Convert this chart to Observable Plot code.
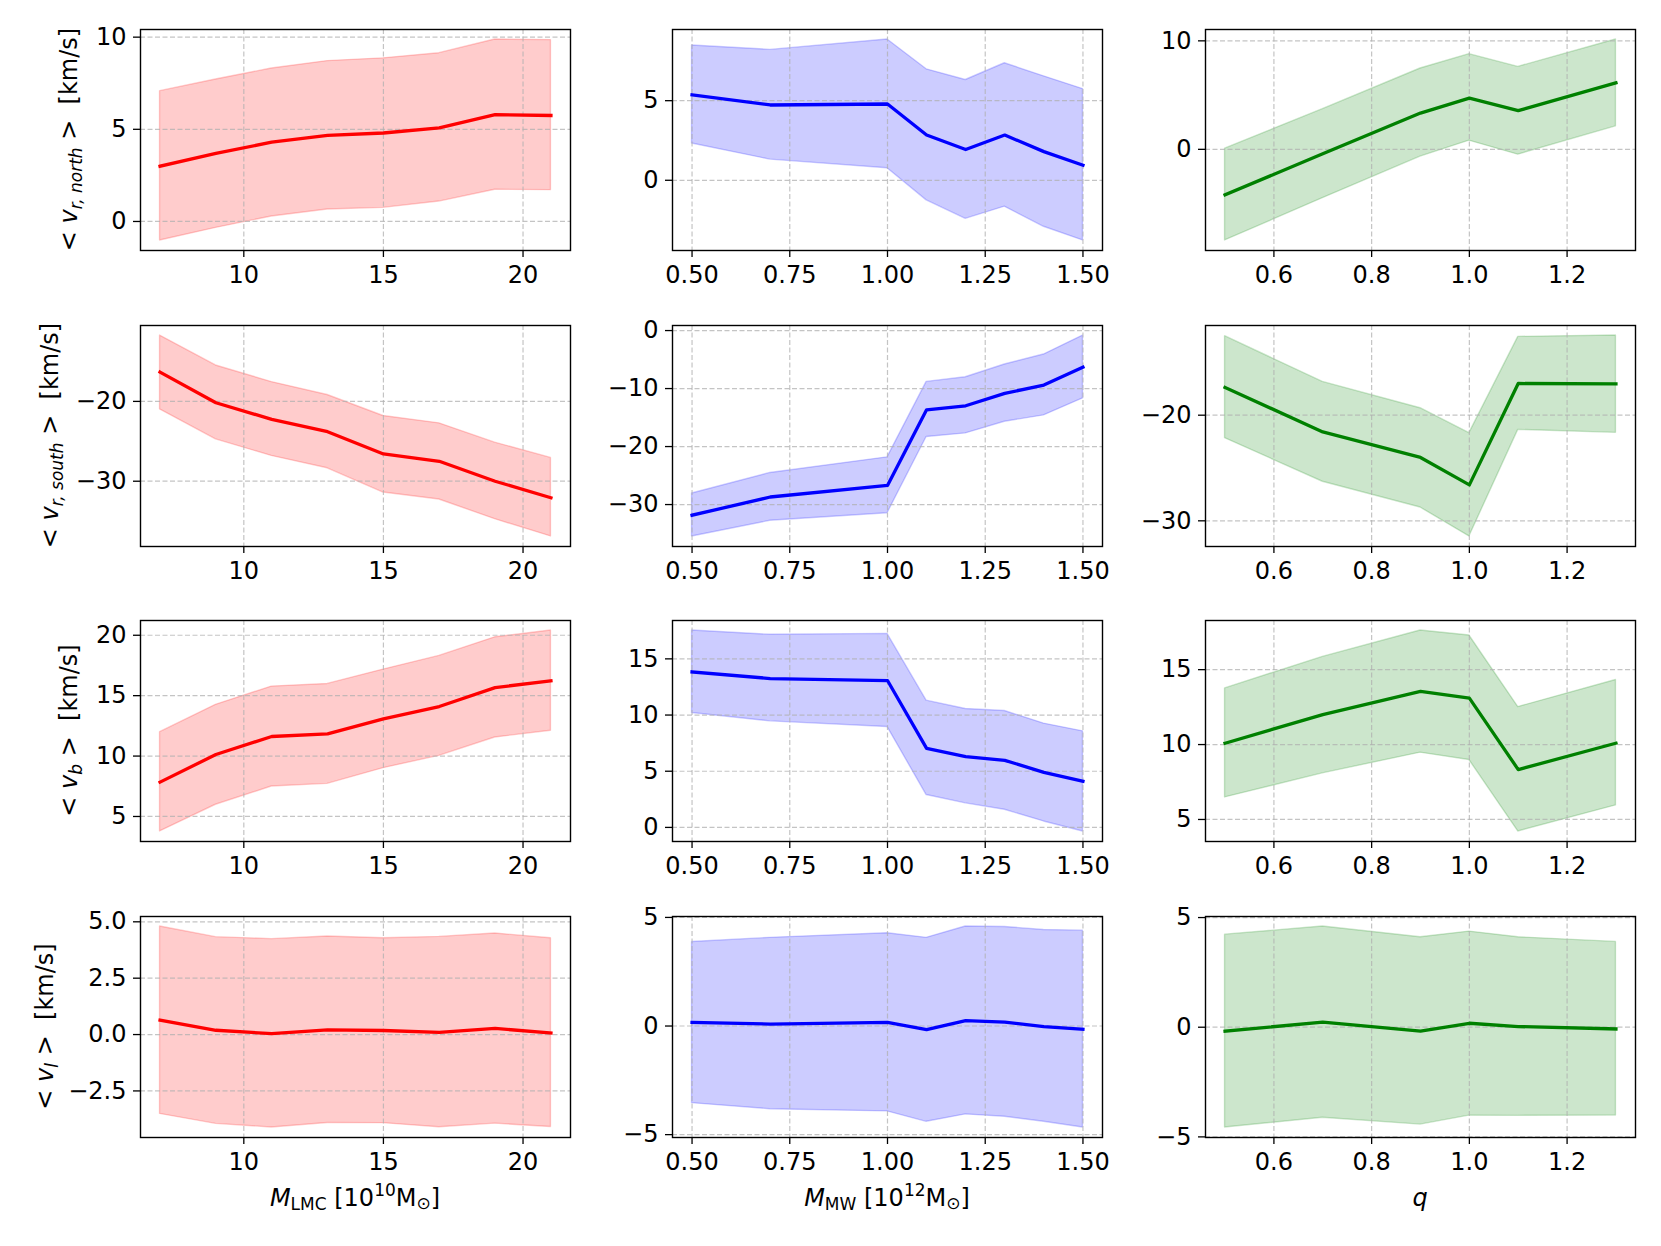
<!DOCTYPE html>
<html><head><meta charset="utf-8">
<script src="https://cdn.jsdelivr.net/npm/d3@7"></script>
<script src="https://cdn.jsdelivr.net/npm/@observablehq/plot@0.6"></script>
<style>
html,body{margin:0;padding:0;background:#fff}
#fig{position:relative;width:1661px;height:1246px;background:#fff;font-family:"DejaVu Sans"}
#fig svg{position:absolute;overflow:visible}
</style>
</head><body><div id="fig"></div>
<script>
// ---------- x values ----------
const xLMC = [7, 9, 11, 13, 15, 17, 19, 21];
const xMW = [0.5, 0.7, 1.0, 1.1, 1.2, 1.3, 1.4, 1.5];
const xQ = [0.5, 0.7, 0.9, 1.0, 1.1, 1.3];

// ---------- row 1: <v_r,north> ----------
const north_LMC_mean = [3.0, 3.7, 4.3, 4.67, 4.8, 5.08, 5.8, 5.75];
const north_LMC_hi = [7.07, 7.7, 8.3, 8.7, 8.85, 9.13, 9.87, 9.84];
const north_LMC_lo = [-1.03, -0.35, 0.27, 0.65, 0.74, 1.08, 1.72, 1.7];
const north_MW_mean = [5.36, 4.73, 4.79, 2.84, 1.93, 2.84, 1.8, 0.95];
const north_MW_hi = [8.47, 8.19, 8.84, 6.97, 6.3, 7.35, 6.53, 5.73];
const north_MW_lo = [2.31, 1.3, 0.76, -1.26, -2.42, -1.66, -2.92, -3.78];
const north_Q_mean = [-4.2, -0.4, 3.34, 4.72, 3.56, 6.13];
const north_Q_hi = [0.06, 3.7, 7.45, 8.77, 7.6, 10.12];
const north_Q_lo = [-8.4, -4.5, -0.67, 0.8, -0.49, 2.12];

// ---------- row 2: <v_r,south> ----------
const south_LMC_mean = [-16.33, -20.17, -22.25, -23.8, -26.58, -27.5, -30.0, -32.08];
const south_LMC_hi = [-11.75, -15.5, -17.58, -19.2, -21.83, -22.75, -25.17, -27.08];
const south_LMC_lo = [-21.0, -24.75, -26.83, -28.38, -31.42, -32.29, -34.75, -36.92];
const south_MW_mean = [-31.84, -28.7, -26.7, -13.66, -12.97, -10.84, -9.4, -6.3];
const south_MW_hi = [-28.1, -24.55, -21.86, -8.85, -8.05, -5.85, -4.13, -0.86];
const south_MW_lo = [-35.5, -32.8, -31.5, -18.36, -17.73, -15.72, -14.63, -11.7];
const south_Q_mean = [-17.38, -21.58, -24.0, -26.6, -17.0, -17.03];
const south_Q_hi = [-12.52, -16.85, -19.34, -21.7, -12.59, -12.46];
const south_Q_lo = [-22.18, -26.3, -28.74, -31.48, -21.39, -21.67];

// ---------- row 3: <v_b> ----------
const vb_LMC_mean = [7.84, 10.13, 11.62, 11.84, 13.08, 14.1, 15.67, 16.22];
const vb_LMC_hi = [11.98, 14.24, 15.75, 15.97, 17.16, 18.29, 19.83, 20.39];
const vb_LMC_lo = [3.76, 5.97, 7.48, 7.7, 9.0, 10.02, 11.54, 12.09];
const vb_MW_mean = [13.84, 13.25, 13.07, 7.04, 6.3, 5.97, 4.9, 4.1];
const vb_MW_hi = [17.52, 17.14, 17.22, 11.28, 10.54, 10.36, 9.24, 8.55];
const vb_MW_lo = [10.18, 9.44, 8.94, 2.88, 2.14, 1.57, 0.53, -0.36];
const vb_Q_mean = [10.09, 12.0, 13.55, 13.1, 8.33, 10.09];
const vb_Q_hi = [13.75, 15.85, 17.61, 17.28, 12.5, 14.31];
const vb_Q_lo = [6.47, 8.08, 9.46, 8.97, 4.2, 5.94];

// ---------- row 4: <v_l> ----------
const vl_LMC_mean = [0.64, 0.19, 0.04, 0.21, 0.18, 0.10, 0.27, 0.07];
const vl_LMC_hi = [4.79, 4.32, 4.23, 4.35, 4.27, 4.33, 4.48, 4.27];
const vl_LMC_lo = [-3.52, -3.96, -4.12, -3.92, -3.93, -4.11, -3.95, -4.1];
const vl_MW_mean = [0.17, 0.09, 0.17, -0.17, 0.25, 0.18, -0.03, -0.15];
const vl_MW_hi = [3.87, 4.06, 4.27, 4.06, 4.58, 4.56, 4.42, 4.39];
const vl_MW_lo = [-3.55, -3.83, -3.93, -4.41, -4.07, -4.18, -4.41, -4.67];
const vl_Q_mean = [-0.18, 0.23, -0.18, 0.18, 0.03, -0.08];
const vl_Q_hi = [4.22, 4.59, 4.10, 4.36, 4.10, 3.89];
const vl_Q_lo = [-4.57, -4.13, -4.44, -4.03, -4.04, -4.03];

// ---------- ticks ----------
const xTicksLMC = [10, 15, 20];
const xTicksMW = [0.5, 0.75, 1.0, 1.25, 1.5];
const xTicksQ = [0.6, 0.8, 1.0, 1.2];
const yTicks = [
  [[0, 5, 10], [0, 5], [0, 10]],
  [[-30, -20], [-30, -20, -10, 0], [-30, -20]],
  [[5, 10, 15, 20], [0, 5, 10, 15], [5, 10, 15]],
  [[-2.5, 0, 2.5, 5], [-5, 0, 5], [-5, 0, 5]]
];

// ---------- assembly ----------
const X = [xLMC, xMW, xQ];
const XT = [xTicksLMC, xTicksMW, xTicksQ];
const XF = [d3.format("d"), d3.format(".2f"), d3.format(".1f")];
const colors = ["red", "blue", "green"];
const series = [
  [[north_LMC_mean, north_LMC_lo, north_LMC_hi], [north_MW_mean, north_MW_lo, north_MW_hi], [north_Q_mean, north_Q_lo, north_Q_hi]],
  [[south_LMC_mean, south_LMC_lo, south_LMC_hi], [south_MW_mean, south_MW_lo, south_MW_hi], [south_Q_mean, south_Q_lo, south_Q_hi]],
  [[vb_LMC_mean, vb_LMC_lo, vb_LMC_hi], [vb_MW_mean, vb_MW_lo, vb_MW_hi], [vb_Q_mean, vb_Q_lo, vb_Q_hi]],
  [[vl_LMC_mean, vl_LMC_lo, vl_LMC_hi], [vl_MW_mean, vl_MW_lo, vl_MW_hi], [vl_Q_mean, vl_Q_lo, vl_Q_hi]]
];
const ySubs = ["r, north", "r, south", "b", "l"];

const colLeft = [139.5, 672, 1204.5];
const rowTop = [29, 324.5, 620, 915.5];
const labelBaseline = [76, 57, 76, 52]; // page x of the rotated y-label baselines
const W = 430, H = 221;
const ML = 110, MR = 10, MT = 10, MB = 50;
const FS = 24;
const fig = document.getElementById("fig");
const gridStyle = {stroke: "#b0b0b0", strokeOpacity: 0.75, strokeWidth: 1.2, strokeDasharray: "5,2.5"};

for (let r = 0; r < 4; r++) {
  for (let c = 0; c < 3; c++) {
    const xs = X[c];
    const [mean, lo, hi] = series[r][c];
    const rows = xs.map((x, i) => ({x, mean: mean[i], lo: lo[i], hi: hi[i]}));
    const ymin = d3.min(lo), ymax = d3.max(hi), yp = (ymax - ymin) * 0.05;
    const xmin = d3.min(xs), xmax = d3.max(xs), xp = (xmax - xmin) * 0.05;
    const col = colors[c];
    const yfmt = (r === 3 && c === 0) ? d3.format(".1f") : d3.format("d");
    const bottom = r === 3 ? 90 : MB;
    const svg = Plot.plot({
      width: ML + W + MR, height: MT + H + bottom,
      marginLeft: ML, marginRight: MR, marginTop: MT, marginBottom: bottom,
      style: {fontFamily: "DejaVu Sans", fontSize: FS + "px", color: "black", background: "transparent", overflow: "visible"},
      x: {domain: [xmin - xp, xmax + xp]},
      y: {domain: [ymin - yp, ymax + yp]},
      marks: [
        Plot.areaY(rows, {x: "x", y1: "lo", y2: "hi", fill: col, fillOpacity: 0.2, stroke: col, strokeOpacity: 0.2, strokeWidth: 1.4}),
        Plot.gridX(XT[c], gridStyle),
        Plot.gridY(yTicks[r][c], gridStyle),
        Plot.line(rows, {x: "x", y: "mean", stroke: col, strokeWidth: 3.3, strokeLinejoin: "round", strokeLinecap: "square"}),
        Plot.frame({stroke: "black", strokeWidth: 1.4}),
        Plot.axisX(XT[c], {tickFormat: XF[c], tickSize: 7, tickPadding: 8, fontSize: FS, label: null, strokeWidth: 1.3}),
        Plot.axisY(yTicks[r][c], {tickFormat: yfmt, tickSize: 7, tickPadding: 7, fontSize: FS, label: null, strokeWidth: 1.3})
      ]
    });
    const offX = colLeft[c] - ML, offY = rowTop[r] - MT;
    svg.style.left = offX + "px";
    svg.style.top = offY + "px";
    fig.appendChild(svg);
    const s = d3.select(svg);

    // y label (first column only)
    if (c === 0) {
      const lx = labelBaseline[r] - offX;
      const t = s.append("text")
        .attr("transform", `translate(${lx},${MT + H / 2}) rotate(-90)`)
        .attr("text-anchor", "middle")
        .attr("font-family", "DejaVu Sans")
        .attr("font-size", FS)
        .attr("fill", "black")
        .attr("xml:space", "preserve");
      t.append("tspan").text("< ");
      t.append("tspan").attr("font-style", "italic").text("v");
      t.append("tspan").attr("font-style", "italic").attr("font-size", 17).attr("dy", 5).text(ySubs[r]);
      t.append("tspan").attr("dy", -5).text(" >  [km/s]");
    }

    // x labels (bottom row only)
    if (r === 3) {
      const t = s.append("text")
        .attr("x", ML + W / 2).attr("y", MT + H + 69)
        .attr("text-anchor", "middle")
        .attr("font-family", "DejaVu Sans")
        .attr("font-size", FS)
        .attr("fill", "black")
        .attr("xml:space", "preserve");
      if (c === 0 || c === 1) {
        const sub = c === 0 ? "LMC" : "MW";
        const pow = c === 0 ? "10" : "12";
        t.append("tspan").attr("font-style", "italic").text("M");
        t.append("tspan").attr("font-size", 17).attr("dy", 4).text(sub);
        t.append("tspan").attr("dy", -4).text(" [10");
        t.append("tspan").attr("font-size", 17).attr("dy", -10).text(pow);
        t.append("tspan").attr("dy", 10).text("M");
        t.append("tspan").attr("font-size", 17).attr("dy", 3).text("\u2299");
        t.append("tspan").attr("dy", -3).text("]");
      } else {
        t.append("tspan").attr("font-style", "italic").text("q");
      }
    }
  }
}
</script>
</body></html>
